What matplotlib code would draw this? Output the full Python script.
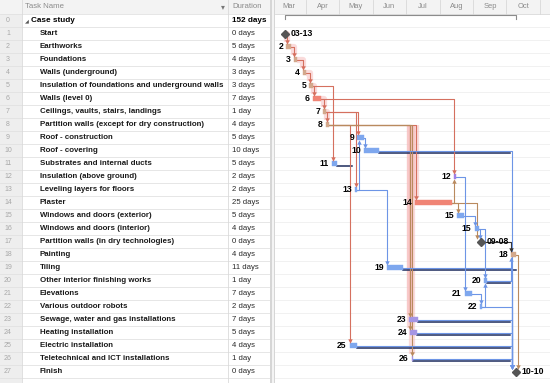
import numpy as np
import pandas as pd
import matplotlib
matplotlib.use("Agg")
import matplotlib.pyplot as plt
import matplotlib.dates as mdates

plt.rcParams["font.family"] = ["Liberation Sans", "DejaVu Sans"]

# ── Task table ────────────────────────────────────────────────────────────────
TASK_NAMES = [
    "Case study", "Start", "Earthworks", "Foundations", "Walls (underground)",
    "Insulation of foundations and underground walls", "Walls (level 0)",
    "Ceilings, vaults, stairs, landings",
    "Partition walls (except for dry construction)", "Roof - construction",
    "Roof - covering", "Substrates and internal ducts",
    "Insulation (above ground)", "Leveling layers for floors", "Plaster",
    "Windows and doors (exterior)", "Windows and doors (interior)",
    "Partition walls (in dry technologies)", "Painting", "Tiling",
    "Other interior finishing works", "Elevations", "Various outdoor robots",
    "Sewage, water and gas installations", "Heating installation",
    "Electric installation", "Teletechnical and ICT installations", "Finish",
]
DURATIONS = [
    "152 days", "0 days", "5 days", "4 days", "3 days", "3 days", "7 days",
    "1 day", "4 days", "5 days", "10 days", "5 days", "2 days", "2 days",
    "25 days", "5 days", "4 days", "0 days", "4 days", "11 days", "1 day",
    "7 days", "2 days", "7 days", "5 days", "4 days", "1 day", "0 days",
]

# ── Gantt bars ───────────────────────────────────────
START = [
    "2019-03-13", "2019-03-13", "2019-03-14", "2019-03-21", "2019-03-29",
    "2019-04-04", "2019-04-07", "2019-04-17", "2019-04-19", "2019-05-18",
    "2019-05-24", "2019-04-25", "2019-08-14", "2019-05-16", "2019-07-10",
    "2019-08-17", "2019-09-02", "2019-09-08", "2019-10-05", "2019-06-14",
    "2019-09-11", "2019-08-24", "2019-09-07", "2019-07-04 12:00",
    "2019-07-05", "2019-05-11", "2019-07-06 12:00", "2019-10-10",
]
FINISH = [
    "2019-10-10", "2019-03-13", "2019-03-18", "2019-03-24", "2019-04-01",
    "2019-04-07", "2019-04-15", "2019-04-19", "2019-04-22", "2019-05-24",
    "2019-06-07", "2019-04-29", "2019-08-16", "2019-05-18", "2019-08-12",
    "2019-08-23", "2019-09-06", "2019-09-08", "2019-10-10", "2019-06-29",
    "2019-09-13", "2019-08-31", "2019-09-08 12:00", "2019-07-12 12:00",
    "2019-07-11", "2019-05-17 12:00", "2019-07-08", "2019-10-10",
]
BAR_KIND = [
    "summary", "milestone", "tan", "tan", "tan", "tan", "red", "tan", "tan",
    "blue", "blue", "blue", "purple", "blue", "red", "blue", "blue",
    "milestone", "tan", "blue", "blue", "blue", "blue", "violet", "violet",
    "blue", "violet", "milestone",
]
BAR_LABELS = [
    "", "03-13", "2", "3", "4", "5", "6", "7", "8", "9", "10", "11", "12",
    "13", "14", "15", "15", "09-08", "18", "19", "20", "21", "22", "23",
    "24", "25", "26", "10-10",
]

# total slack lines (row, late finish)
SLACK_ROWS = [10, 11, 19, 20, 23, 24, 25, 26]
SLACK_TO = [
    "2019-10-04 12:00", "2019-05-13", "2019-10-10", "2019-10-04 12:00",
    "2019-10-04 12:00", "2019-10-04 12:00", "2019-10-04 12:00",
    "2019-10-04 12:00",
]

# dependency links (predecessor, successor, link colour)
LINKS = [
    (1, 2, "crit"), (2, 3, "crit"), (3, 4, "crit"), (4, 5, "crit"),
    (5, 6, "crit"), (5, 11, "crit"), (6, 7, "crit"), (6, 12, "crit"),
    (7, 8, "crit"), (7, 9, "crit"), (7, 13, "crit"), (8, 14, "crit"),
    (8, 25, "crit"), (8, 23, "brown"), (8, 24, "brown"), (8, 26, "brown"),
    (9, 10, "blue"), (13, 9, "blue"), (13, 19, "blue"), (14, 12, "brown"),
    (14, 15, "brown"), (14, 17, "brown"), (12, 21, "blue"), (15, 16, "blue"),
    (16, 17, "blue"), (16, 20, "blue"), (21, 22, "blue"), (22, 20, "blue"),
    (20, 18, "blue"), (17, 18, "dark"), (10, 27, "blue"), (19, 27, "blue"),
    (20, 27, "blue"), (22, 27, "blue"), (23, 27, "blue"), (24, 27, "blue"),
    (25, 27, "blue"), (26, 27, "blue"), (18, 27, "brown"),
]
# highlighted links: whole path for the early chain, only the drop for task 8
GLOW_FULL = {(1, 2), (2, 3), (3, 4), (4, 5), (5, 6), (6, 7), (7, 8)}
GLOW_DROP = {(8, 14), (8, 23), (8, 24), (8, 26)}

MONTHS = ["2019-03-01", "2019-04-01", "2019-05-01", "2019-06-01", "2019-07-01",
          "2019-08-01", "2019-09-01", "2019-10-01", "2019-11-01"]
MONTH_NAMES = ["Mar", "Apr", "May", "Jun", "Jul", "Aug", "Sep", "Oct"]

BAR_COLOURS = {
    "tan": "#d3a88c", "red": "#f08475", "blue": "#7ea7ee",
    "purple": "#a07fe6", "violet": "#a595e4",
}
LINK_COLOURS = {"crit": "#d5705f", "brown": "#b98a5e", "blue": "#6d95e6",
                "dark": "#333333"}

# ── Figure layout ─────────────────────────────────────────────────────────────
W, H = 550, 383
ROW_PX = 13.0
ROW0_Y = 20.5
y_top = -ROW0_Y / ROW_PX
y_bot = (H - ROW0_Y) / ROW_PX
n = len(TASK_NAMES)
rows = np.arange(n)

fig = plt.figure(figsize=(W / 100, H / 100), dpi=100)
fig.patch.set_facecolor("white")

# ── Table side ────────────────────────────────────────────────────────────────
SPLIT = 275
ax_t = fig.add_axes([0, 0, SPLIT / W, 1])
ax_t.set_xlim(0, SPLIT)
ax_t.set_ylim(y_bot, y_top)
ax_t.axis("off")

hdr_bot = -0.5
ax_t.fill_between([0, 270], y_top, hdr_bot, color="#f3f3f3", lw=0, zorder=0)
ax_t.fill_between([0, 22], hdr_bot, y_bot, color="#eeeeee", lw=0, zorder=0)
for r in np.arange(-0.5, n, 1.0):
    ax_t.plot([0, 270], [r, r], color="#e2e2e2", lw=0.6, zorder=1)
for xv in [22, 228]:
    ax_t.plot([xv, xv], [y_top, y_bot], color="#dadada", lw=0.6, zorder=1)
ax_t.fill_between([270, 275], y_top, y_bot, color="#d6d6d6", lw=0, zorder=2)
ax_t.fill_between([271.5, 273.5], y_top, y_bot, color="#f4f4f4", lw=0, zorder=2)

hdr_y = (y_top + hdr_bot) / 2
ax_t.text(25, hdr_y, "Task Name", fontsize=5.6, color="#8a8a8a", va="center")
ax_t.text(223, hdr_y, "\u25be", fontsize=5.6, color="#777777", va="center",
          ha="center", family=["DejaVu Sans"])
ax_t.text(232, hdr_y, "Duration", fontsize=5.6, color="#8a8a8a", va="center")

for i in rows:
    ax_t.text(8, i, str(i), fontsize=5.0, color="#a8a8a8", va="center",
              ha="center")
    if i == 0:
        ax_t.text(25, i, "\u25e2", fontsize=3.6, color="#555555",
                  va="center", family=["DejaVu Sans"])
        ax_t.text(31, i, TASK_NAMES[i], fontsize=5.9, fontweight="bold",
                  va="center")
        ax_t.text(232, i, DURATIONS[i], fontsize=5.9, fontweight="bold",
                  va="center")
    else:
        ax_t.text(40, i, TASK_NAMES[i], fontsize=5.7, fontweight="bold",
                  va="center", color="#1a1a1a")
        ax_t.text(232, i, DURATIONS[i], fontsize=5.6, va="center",
                  color="#2a2a2a")

# ── Gantt side ────────────────────────────────────────────────────────────────
ax = fig.add_axes([SPLIT / W, 0, (W - SPLIT) / W, 1])
PX_DAY = 1.095
x_origin = mdates.date2num(pd.Timestamp("2019-03-01")) - 272 / PX_DAY
ax.set_xlim(x_origin + SPLIT / PX_DAY, x_origin + W / PX_DAY)
ax.set_ylim(y_bot, y_top)
ax.axis("off")
px = 1 / PX_DAY  # one pixel in days


def to_num(values):
    return mdates.date2num(pd.to_datetime(values, format="mixed"))


start = to_num(START)
finish = to_num(FINISH)
months = to_num(MONTHS)

# timescale header
ax.fill_between(ax.get_xlim(), y_top, hdr_bot, color="#f3f3f3", lw=0, zorder=0)
ax.plot(ax.get_xlim(), [hdr_bot, hdr_bot], color="#d8d8d8", lw=0.6)
for m0, m1, name in zip(months[:-1], months[1:], MONTH_NAMES):
    ax.plot([m1, m1], [y_top, hdr_bot], color="#d8d8d8", lw=0.6)
    ax.text((m0 + m1) / 2, hdr_y, name, fontsize=5.4, color="#8a8a8a",
            ha="center", va="center")
for r in np.arange(0.5, n, 1.0):
    ax.axhline(r, color="#efefef", lw=0.6, zorder=0)

BAR_HALF = 0.23
ARROW = 0.15

# slack (dark) lines
for r, lf in zip(SLACK_ROWS, to_num(SLACK_TO)):
    ax.plot([finish[r], lf], [r + 0.2, r + 0.2], color="#1d2b5c", lw=1.1,
            zorder=2)


def draw_link(p, s, kind):
    x0 = finish[p]
    xs = start[s] - 4 * px if BAR_KIND[s] == "milestone" else start[s] + 0.5 * px
    xl = max(xs, x0 + 1.5 * px)
    if s > p:
        y1, mk = s - BAR_HALF - ARROW, "v"
    else:
        y1, mk = s + BAR_HALF + ARROW, "^"
    col = LINK_COLOURS[kind]
    glow = dict(color="#f7b9b9", lw=4.5, alpha=0.5, zorder=1,
                solid_capstyle="butt")
    if (p, s) in GLOW_FULL:
        ax.plot([x0, xl, xl], [p, p, y1], **glow)
    elif (p, s) in GLOW_DROP:
        ax.plot([xl, xl], [p, y1], **glow)
    ax.plot([x0, xl, xl], [p, p, y1], color=col, lw=0.8, zorder=2)
    ax.plot(xl, y1, marker=mk, ms=3.2, color=col, mec=col, mew=0,
            zorder=4)


for p, s, kind in LINKS:
    draw_link(p, s, kind)

# bars, milestones and summary
for i in rows:
    kind = BAR_KIND[i]
    if kind == "summary":
        y = i - 0.42
        ax.plot([start[i], start[i], finish[i], finish[i]],
                [i - 0.1, y, y, i - 0.1], color="#8c8c8c", lw=0.8, zorder=3)
        continue
    if kind == "milestone":
        ms = 4.2 if i < 27 else 3.6
        ax.plot(start[i], i, marker="D", ms=ms, color="#555555", zorder=5)
        ax.text(start[i] + 5 * px, i, BAR_LABELS[i], fontsize=6.2,
                fontweight="bold", va="center", ha="left", zorder=6)
        continue
    ax.barh(i, finish[i] - start[i], left=start[i], height=2 * BAR_HALF,
            color=BAR_COLOURS[kind], edgecolor=BAR_COLOURS[kind], lw=0.3,
            zorder=3)
    ax.text(start[i] - 3 * px, i, BAR_LABELS[i], fontsize=6.2,
            fontweight="bold", va="center", ha="right", zorder=6)

fig.savefig("out.png", dpi=100)
